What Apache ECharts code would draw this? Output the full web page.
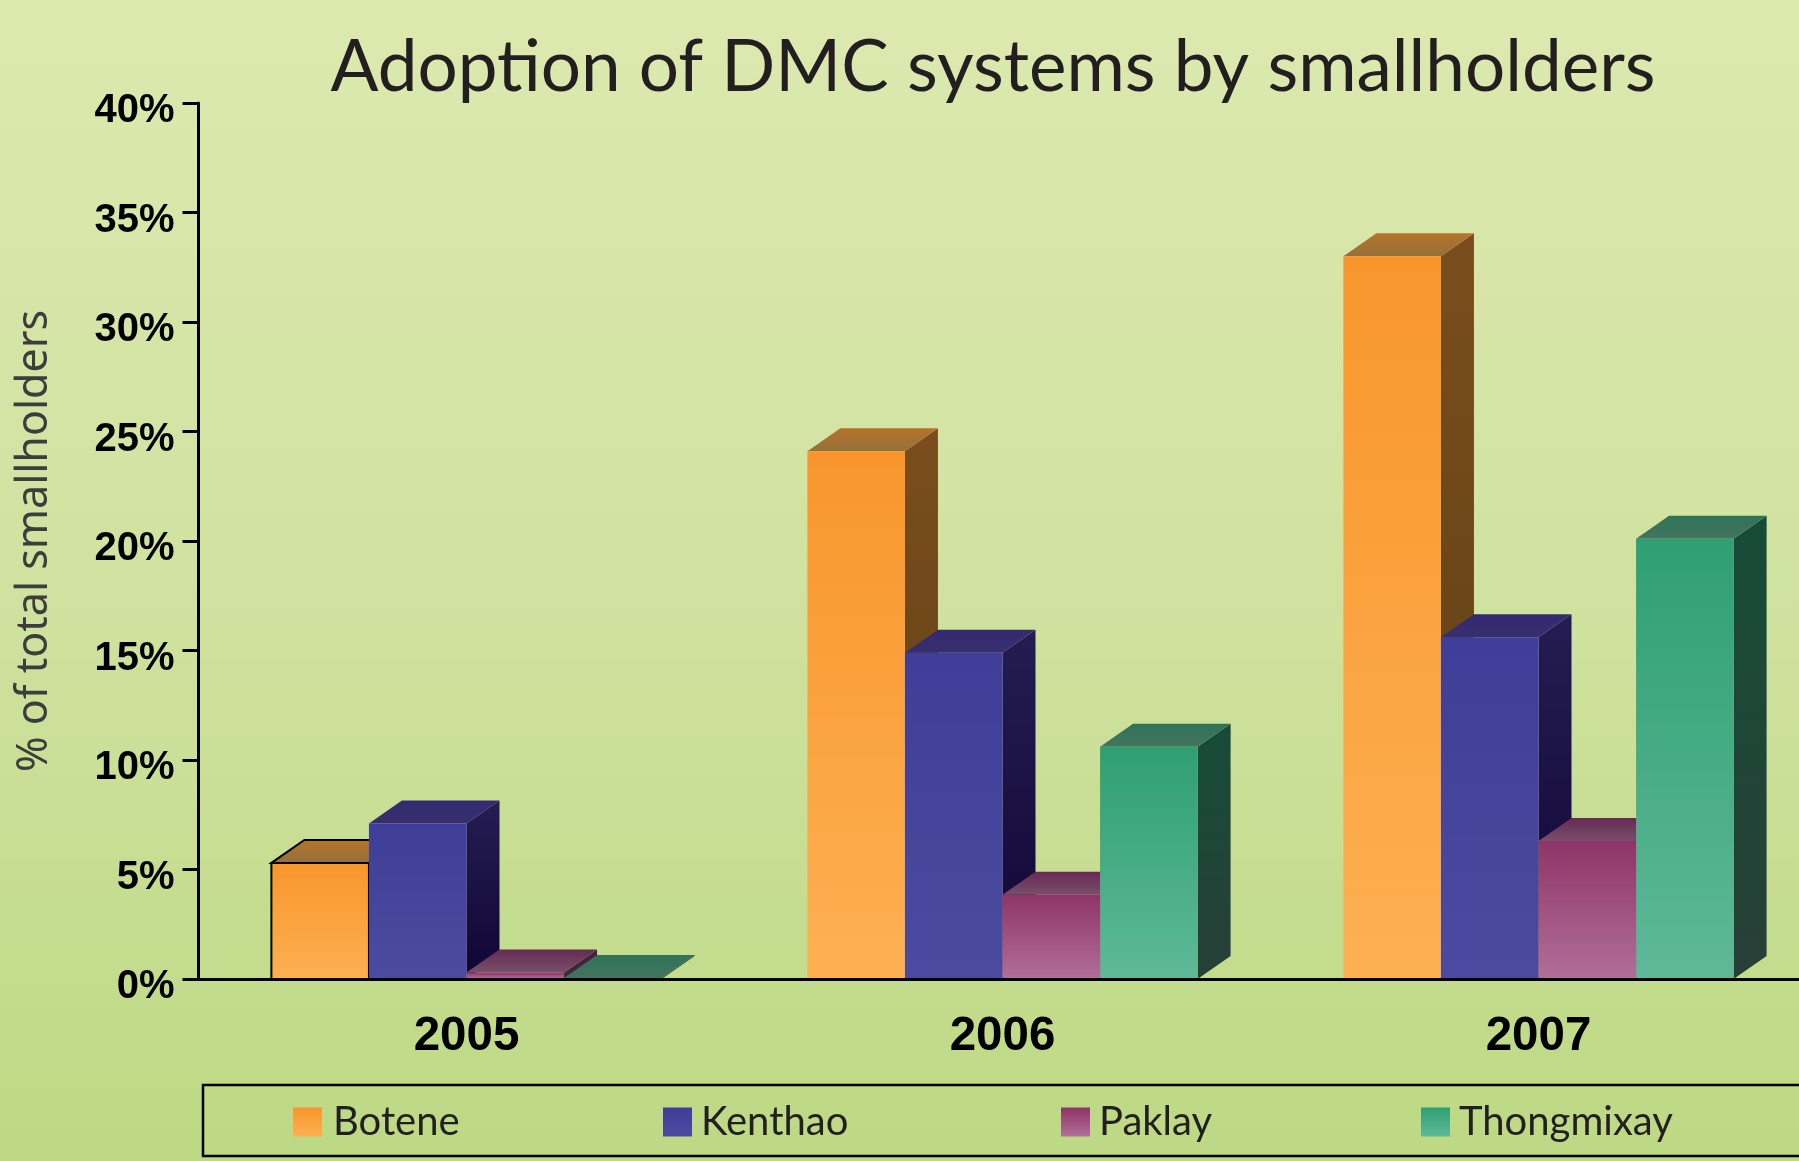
<!DOCTYPE html>
<html><head><meta charset="utf-8">
<style>html,body{margin:0;padding:0;overflow:hidden}#c{width:1799px;height:1161px}</style>
<script src="https://cdn.jsdelivr.net/npm/echarts@6/dist/echarts.min.js"></script>
</head><body><div id="c"></div>
<script>
const years = ['2005','2006','2007'];
const yTicksMax = 40;
const botene = [5.3, 24.1, 33.0];
const kenthao = [7.1, 14.9, 15.6];
const paklay = [0.3, 3.85, 6.3];
const thongmixay = [0.05, 10.6, 20.1];
const names = ['Botene','Kenthao','Paklay','Thongmixay'];
const values = [botene, kenthao, paklay, thongmixay];

const g = (a,b) => ({type:'linear',x:0,y:0,x2:0,y2:1,colorStops:[{offset:0,color:a},{offset:1,color:b}]});
const faces = [
  {front:g('#f8962c','#fdb053'), top:g('#b6732a','#94703a'), side:g('#7b4d1c','#5a3f16')},
  {front:g('#3f3e98','#4a4ba0'), top:g('#332a72','#372f6c'), side:g('#251c52','#100634')},
  {front:g('#8f3468','#b16f98'), top:g('#672a55','#774f6a'), side:g('#47203f','#3c2a3c')},
  {front:g('#2f9f72','#5eb998'), top:g('#2f7358','#44745f'), side:g('#174c37','#283f38')}
];
const legendLeft = [293, 663, 1061, 1421];
const legendTextGap = [6, 4, 4, 4];
const barRatio = 0.182, depthX = 33, depthY = 23;

function render(si){
  return function(params, api){
    const cat = api.value(0), v = api.value(1);
    const top = api.coord([cat, v]), base = api.coord([cat, 0]);
    const w = api.size([1,0])[0] * barRatio;
    const x = top[0] + (si - 2) * w;
    const f = faces[si];
    const outlined = si === 0 && cat === 0;
    const line = outlined ? {stroke:'#000', lineWidth:2} : {};
    return {type:'group', children:[
      {type:'polygon', shape:{points:[[x+w,top[1]],[x+w+depthX,top[1]-depthY],[x+w+depthX,base[1]-depthY],[x+w,base[1]]]},
       style:Object.assign({fill:f.side}, line)},
      {type:'polygon', shape:{points:[[x,top[1]],[x+depthX,top[1]-depthY],[x+w+depthX,top[1]-depthY],[x+w,top[1]]]},
       style:Object.assign({fill:f.top}, line)},
      {type:'rect', shape:{x:x, y:top[1], width:w, height:base[1]-top[1]},
       style:Object.assign({fill:f.front}, line)}
    ]};
  };
}

const axisStroke = {color:'#000', width:3};
const chart = echarts.init(document.getElementById('c'), null, {renderer:'canvas', width:1799, height:1161});
chart.setOption({
  animation:false,
  backgroundColor:{type:'linear',x:0,y:0,x2:0,y2:1,colorStops:[
    {offset:0,color:'#dde9af'},{offset:0.5,color:'#d0e2a0'},{offset:1,color:'#bdd984'}]},
  title:{text:'Adoption of DMC systems by smallholders', left:988, top:28, textAlign:'center',
    textStyle:{fontFamily:'Lato', fontWeight:'normal', fontSize:71, color:'#231f20'}},
  grid:{left:198.5, top:103, width:1608, height:876, outerBoundsMode:'none'},
  xAxis:{type:'category', data:years, z:5,
    axisLine:{lineStyle:axisStroke}, axisTick:{length:14, lineStyle:axisStroke},
    axisLabel:{margin:34, fontFamily:'Liberation Sans', fontWeight:'bold', fontSize:47.5, color:'#000'}},
  yAxis:{type:'value', min:0, max:yTicksMax, interval:5, z:5,
    name:'% of total smallholders', nameLocation:'middle', nameGap:142,
    nameTextStyle:{fontFamily:'Noto Sans', fontSize:43, color:'#3d3d3d'},
    splitLine:{show:false},
    axisLine:{show:true, lineStyle:axisStroke}, axisTick:{show:true, length:16, lineStyle:axisStroke},
    axisLabel:{margin:24, formatter:'{value}%', fontFamily:'Liberation Sans', fontWeight:'bold', fontSize:40, color:'#000', verticalAlign:'top', lineHeight:16}},
  legend:names.map((n,i)=>({data:[{name:n, icon:'rect', itemStyle:{color:faces[i].front}}], left:legendLeft[i], top:1102, orient:'horizontal',
    padding:0, itemWidth:29, itemHeight:29, selectedMode:false,
    textStyle:{fontFamily:'Lato', fontSize:40, color:'#231f20', padding:[0,0,0,legendTextGap[i]]}})),
  graphic:[{type:'rect', silent:true, z:1, shape:{x:203, y:1085, width:1700, height:71},
    style:{fill:'none', stroke:'#000', lineWidth:2.5}}],
  series:names.map((n,si)=>({
    type:'custom', name:n, coordinateSystem:'cartesian2d', z:2,
    itemStyle:{color:faces[si].front},
    encode:{x:0,y:1},
    data:values[si].map((v,i)=>[i,v]),
    renderItem:render(si), clip:false
  }))
});
</script></body></html>
